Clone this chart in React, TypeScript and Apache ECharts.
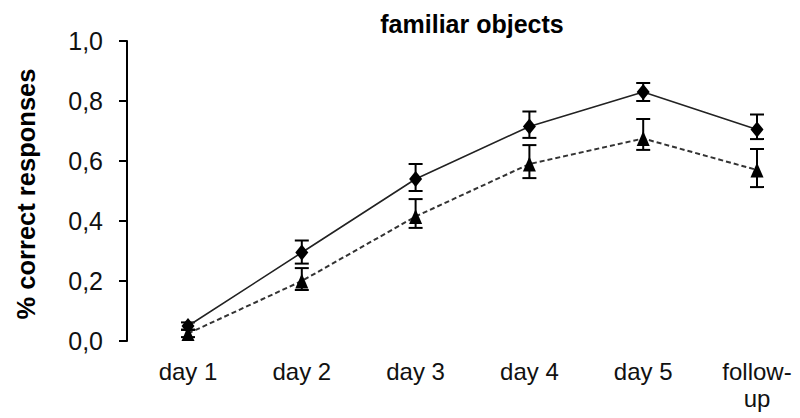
import React, { useEffect, useRef } from "react";
import * as echarts from "echarts";

const categories = ["day 1", "day 2", "day 3", "day 4", "day 5", "follow-up"];
const yTicks = [0, 0.2, 0.4, 0.6, 0.8, 1.0];

// solid line with diamonds
const diamondMean = [0.05, 0.295, 0.54, 0.715, 0.83, 0.705];
const diamondLow = [0.038, 0.258, 0.5, 0.677, 0.8, 0.673];
const diamondHigh = [0.062, 0.335, 0.59, 0.765, 0.86, 0.755];

// dashed line with triangles
const triangleMean = [0.025, 0.2, 0.415, 0.59, 0.675, 0.57];
const triangleLow = [0.013, 0.17, 0.377, 0.543, 0.637, 0.513];
const triangleHigh = [0.037, 0.243, 0.473, 0.653, 0.74, 0.64];

const FONT = "'Liberation Sans', Arial, Helvetica, sans-serif";

function errorSeries(low: number[], high: number[]) {
  return {
    type: "custom",
    z: 3,
    encode: { x: 0, y: [1, 2] },
    data: low.map((l, i) => [i, l, high[i]]),
    renderItem: (params: any, api: any) => {
      const x = api.value(0);
      const lo = api.coord([x, api.value(1)]);
      const hi = api.coord([x, api.value(2)]);
      const hw = 7;
      const style = { stroke: "#000", lineWidth: 2 };
      return {
        type: "group",
        children: [
          { type: "line", shape: { x1: lo[0], y1: lo[1], x2: hi[0], y2: hi[1] }, style },
          { type: "line", shape: { x1: lo[0] - hw, y1: lo[1], x2: lo[0] + hw, y2: lo[1] }, style },
          { type: "line", shape: { x1: hi[0] - hw, y1: hi[1], x2: hi[0] + hw, y2: hi[1] }, style },
        ],
      };
    },
  };
}

export default function App() {
  const ref = useRef<HTMLDivElement>(null);
  useEffect(() => {
    if (!ref.current) return;
    const chart = echarts.init(ref.current, null, { renderer: "svg" });
    chart.setOption({
      animation: false,
      backgroundColor: "#fff",
      textStyle: { fontFamily: FONT },
      grid: { left: 188, right: 43, top: 41, bottom: 77, containLabel: false },
      graphic: [
        {
          type: "text",
          x: 472,
          y: 24,
          style: {
            text: "familiar objects",
            font: `bold 25px ${FONT}`,
            fill: "#000",
            textAlign: "center",
            textVerticalAlign: "middle",
          },
        },
        {
          type: "text",
          x: 26,
          y: 194,
          rotation: Math.PI / 2,
          style: {
            text: "% correct responses",
            font: `bold 25.5px ${FONT}`,
            fill: "#000",
            textAlign: "center",
            textVerticalAlign: "middle",
          },
        },
      ],
      xAxis: {
        type: "category",
        data: categories,
        boundaryGap: false,
        axisLine: { show: false },
        axisTick: { show: false },
        splitLine: { show: false },
        axisLabel: {
          interval: 0,
          fontSize: 24,
          lineHeight: 27,
          margin: 17,
          color: "#111",
          fontFamily: FONT,
          formatter: (v: string) => (v === "follow-up" ? "follow-\nup" : v),
        },
      },
      yAxis: {
        type: "value",
        min: yTicks[0],
        max: yTicks[yTicks.length - 1],
        interval: 0.2,
        offset: 61,
        axisLine: { show: true, lineStyle: { color: "#000", width: 2 } },
        axisTick: { show: true, inside: false, length: 8, lineStyle: { color: "#000", width: 2 } },
        splitLine: { show: false },
        axisLabel: {
          fontSize: 25,
          margin: 24,
          color: "#111",
          fontFamily: FONT,
          formatter: (v: number) => v.toFixed(1).replace(".", ","),
        },
      },
      series: [
        errorSeries(diamondLow, diamondHigh),
        errorSeries(triangleLow, triangleHigh),
        {
          type: "line",
          z: 4,
          data: diamondMean,
          symbol: "diamond",
          symbolSize: [13, 16],
          lineStyle: { color: "#222", width: 1.6, type: "solid" },
          itemStyle: { color: "#000" },
        },
        {
          type: "line",
          z: 4,
          data: triangleMean,
          symbol: "triangle",
          symbolSize: [13, 15],
          lineStyle: { color: "#333", width: 2, type: [5, 3] },
          itemStyle: { color: "#000" },
        },
      ],
    });
    return () => chart.dispose();
  }, []);
  return (
    <div
      ref={ref}
      style={{ position: "absolute", left: 0, top: 0, width: 800, height: 418 }}
    />
  );
}
